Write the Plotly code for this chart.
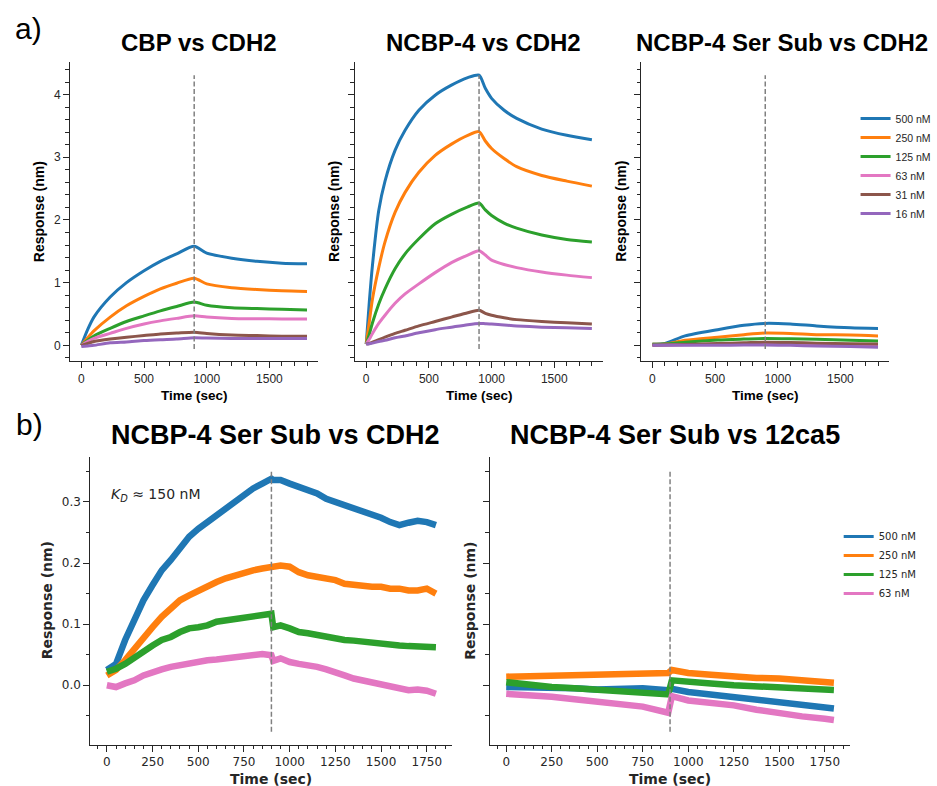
import plotly.graph_objects as go

# ---------------- data ----------------
CONC = ["500 nM", "250 nM", "125 nM", "63 nM", "31 nM", "16 nM"]
COLORS = ["#1f77b4", "#ff7f0e", "#2ca02c", "#e377c2", "#8c564b", "#9467bd"]
ASSOC_END = 900  # sec, end of association phase

TITLES_TOP = ["CBP vs CDH2", "NCBP-4 vs CDH2", "NCBP-4 Ser Sub vs CDH2"]
TITLES_BOTTOM = ["NCBP-4 Ser Sub vs CDH2", "NCBP-4 Ser Sub vs 12ca5"]

XTICKS_TOP = [0, 500, 1000, 1500]
YTICKS_TOP = [0, 1, 2, 3, 4]
XTICKS_BOTTOM = [0, 250, 500, 750, 1000, 1250, 1500, 1750]
YTICKS_BOTTOM = [0.0, 0.1, 0.2, 0.3]

# a) CBP vs CDH2
T_CBP = [0, 50, 100, 230, 360, 500, 630, 760, 900, 1000, 1200, 1400, 1600, 1800]
CBP_500 = [0.00, 0.25, 0.45, 0.77, 1.00, 1.19, 1.34, 1.46, 1.58, 1.47, 1.39, 1.34, 1.31, 1.30]
CBP_250 = [0.00, 0.12, 0.23, 0.45, 0.63, 0.78, 0.90, 0.99, 1.07, 0.98, 0.92, 0.89, 0.87, 0.86]
CBP_125 = [0.00, 0.08, 0.15, 0.27, 0.38, 0.47, 0.55, 0.62, 0.69, 0.64, 0.60, 0.586, 0.575, 0.565]
CBP_63 = [0.00, 0.06, 0.11, 0.19, 0.27, 0.34, 0.39, 0.43, 0.47, 0.45, 0.43, 0.425, 0.42, 0.42]
CBP_31 = [0.00, 0.03, 0.06, 0.10, 0.13, 0.155, 0.18, 0.195, 0.21, 0.19, 0.165, 0.155, 0.145, 0.145]
CBP_16 = [-0.02, -0.01, 0.00, 0.04, 0.055, 0.077, 0.09, 0.10, 0.12, 0.115, 0.11, 0.11, 0.11, 0.11]

# a) NCBP-4 vs CDH2
T_NCBP = [0, 25, 50, 100, 150, 230, 310, 420, 550, 680, 810, 900, 950, 1000, 1100, 1200, 1400, 1600, 1800]
NCBP_500 = [0.02, 0.70, 1.28, 2.15, 2.62, 3.11, 3.43, 3.75, 3.99, 4.15, 4.27, 4.31, 4.10, 3.94, 3.75, 3.62, 3.45, 3.35, 3.28]
NCBP_250 = [0.02, 0.38, 0.74, 1.24, 1.65, 2.12, 2.44, 2.76, 3.03, 3.21, 3.35, 3.41, 3.26, 3.14, 2.98, 2.85, 2.71, 2.62, 2.54]
NCBP_125 = [0.02, 0.18, 0.36, 0.66, 0.90, 1.22, 1.46, 1.70, 1.94, 2.09, 2.21, 2.27, 2.16, 2.07, 1.95, 1.87, 1.76, 1.69, 1.65]
NCBP_63 = [0.02, 0.10, 0.19, 0.35, 0.48, 0.67, 0.82, 0.98, 1.16, 1.32, 1.44, 1.51, 1.44, 1.36, 1.29, 1.24, 1.17, 1.12, 1.08]
NCBP_31 = [0.02, 0.03, 0.05, 0.09, 0.13, 0.19, 0.24, 0.31, 0.38, 0.45, 0.52, 0.56, 0.51, 0.48, 0.44, 0.41, 0.38, 0.36, 0.34]
NCBP_16 = [0.02, 0.025, 0.035, 0.06, 0.08, 0.12, 0.15, 0.20, 0.25, 0.29, 0.33, 0.35, 0.345, 0.34, 0.325, 0.31, 0.29, 0.28, 0.27]

# a) NCBP-4 Ser Sub vs CDH2
T_SER = [0, 100, 260, 520, 730, 900, 1100, 1310, 1580, 1800]
SER_500 = [0.016, 0.03, 0.15, 0.25, 0.32, 0.35, 0.34, 0.31, 0.28, 0.27]
SER_250 = [0.016, 0.02, 0.08, 0.13, 0.17, 0.197, 0.19, 0.17, 0.165, 0.15]
SER_125 = [0.016, 0.02, 0.05, 0.085, 0.10, 0.11, 0.105, 0.095, 0.08, 0.07]
SER_63 = [0.0, 0.005, 0.01, 0.02, 0.025, 0.03, 0.025, 0.02, 0.015, 0.01]
SER_31 = [0.0, 0.005, 0.015, 0.03, 0.04, 0.05, 0.045, 0.035, 0.025, 0.02]
SER_16 = [0.0, 0.0, 0.0, 0.0, 0.005, 0.005, 0.0, -0.01, -0.02, -0.03]

# b) NCBP-4 Ser Sub vs CDH2 (zoomed)
T_B1 = [0, 50, 100, 150, 200, 250, 300, 350, 400, 450, 500, 550, 600, 650, 700, 750, 800, 850, 900,
        910, 950, 1000, 1050, 1100, 1150, 1200, 1250, 1300, 1350, 1400, 1450, 1500, 1550, 1600, 1650,
        1700, 1750, 1800]
B1_500 = [0.025, 0.035, 0.074, 0.106, 0.139, 0.164, 0.188, 0.205, 0.226, 0.243, 0.256, 0.267, 0.278,
          0.292, 0.303, 0.314, 0.322, 0.330, 0.338, 0.336, 0.336, 0.330, 0.325, 0.319, 0.314, 0.305,
          0.300, 0.293, 0.289, 0.284, 0.280, 0.274, 0.267, 0.262, 0.266, 0.269, 0.267, 0.262]
B1_250 = [0.016, 0.025, 0.041, 0.060, 0.079, 0.095, 0.112, 0.125, 0.139, 0.147, 0.155, 0.161, 0.169,
          0.175, 0.180, 0.184, 0.188, 0.191, 0.194, 0.195, 0.196, 0.194, 0.185, 0.180, 0.177, 0.175,
          0.172, 0.166, 0.164, 0.161, 0.161, 0.161, 0.158, 0.158, 0.155, 0.155, 0.158, 0.150]
B1_125 = [0.022, 0.027, 0.035, 0.046, 0.057, 0.065, 0.074, 0.079, 0.087, 0.093, 0.095, 0.098, 0.104,
          0.106, 0.109, 0.112, 0.113, 0.115, 0.117, 0.095, 0.098, 0.093, 0.087, 0.085, 0.082, 0.079,
          0.076, 0.074, 0.073, 0.071, 0.070, 0.068, 0.066, 0.065, 0.064, 0.064, 0.063, 0.062]
B1_63 = [0.000, -0.003, 0.003, 0.008, 0.016, 0.022, 0.026, 0.030, 0.033, 0.035, 0.038, 0.041, 0.042,
         0.044, 0.045, 0.047, 0.049, 0.051, 0.049, 0.040, 0.044, 0.038, 0.035, 0.033, 0.030, 0.026,
         0.022, 0.016, 0.011, 0.008, 0.005, 0.003, 0.000, -0.003, -0.008, -0.007, -0.009, -0.014]

# b) NCBP-4 Ser Sub vs 12ca5
T_B2 = [0, 125, 250, 375, 500, 625, 750, 890, 910, 1000, 1125, 1250, 1375, 1500, 1625, 1750, 1800]
B2_500 = [-0.003, -0.003, -0.004, -0.005, -0.007, -0.006, -0.005, -0.008, -0.006, -0.011, -0.015,
          -0.019, -0.023, -0.027, -0.030, -0.035, -0.038]
B2_250 = [0.014, 0.015, 0.016, 0.016, 0.016, 0.017, 0.019, 0.020, 0.025, 0.020, 0.017, 0.014, 0.012,
          0.011, 0.008, 0.005, 0.004]
B2_125 = [0.005, 0.000, -0.003, -0.005, -0.008, -0.010, -0.013, -0.015, 0.008, 0.005, 0.003, 0.000,
          -0.002, -0.003, -0.005, -0.008, -0.008]
B2_63 = [-0.014, -0.016, -0.019, -0.023, -0.027, -0.031, -0.035, -0.045, -0.018, -0.025, -0.029,
         -0.033, -0.040, -0.046, -0.051, -0.055, -0.057]

# extent of the dashed "end of association" markers
DASH_Y_TOP = [-0.06, 4.31]
DASH_Y_BOTTOM = [-0.076, 0.352]

# ---------------- layout helpers ----------------
W, H = 937, 786


def px(x):
    return x / W


def py(y):
    return 1 - y / H


INK = "#262626"
ARIAL = "Liberation Sans"
DEJAVU = "DejaVu Sans"

fig = go.Figure()

top_panels = [
    (T_CBP, [CBP_500, CBP_250, CBP_125, CBP_63, CBP_31, CBP_16]),
    (T_NCBP, [NCBP_500, NCBP_250, NCBP_125, NCBP_63, NCBP_31, NCBP_16]),
    (T_SER, [SER_500, SER_250, SER_125, SER_63, SER_31, SER_16]),
]
for p, (t, series) in enumerate(top_panels):
    ax = "" if p == 0 else str(p + 1)
    for i, vals in enumerate(series):
        fig.add_trace(go.Scatter(
            x=t, y=vals, mode="lines", name=CONC[i],
            line=dict(color=COLORS[i], width=3, shape="spline", smoothing=0.7),
            xaxis="x" + ax, yaxis="y" + ax,
            showlegend=(p == 2), legend="legend", hoverinfo="skip"))

bottom_panels = [
    (T_B1, [B1_500, B1_250, B1_125, B1_63]),
    (T_B2, [B2_500, B2_250, B2_125, B2_63]),
]
for p, (t, series) in enumerate(bottom_panels):
    ax = str(p + 4)
    for i, vals in enumerate(series):
        fig.add_trace(go.Scatter(
            x=t, y=vals, mode="lines", name=CONC[i],
            line=dict(color=COLORS[i], width=6.5),
            xaxis="x" + ax, yaxis="y" + ax,
            showlegend=False, hoverinfo="skip"))
# legend entries for the bottom-right panel (thin legend lines)
for i in range(4):
    fig.add_trace(go.Scatter(
        x=[None], y=[None], mode="lines", name=CONC[i],
        line=dict(color=COLORS[i], width=3),
        xaxis="x5", yaxis="y5", showlegend=True, legend="legend2"))

top_y = [py(361), py(62)]
bot_y = [py(744.5), py(456.7)]
top_x = [[70.6, 320.7], [357.6, 607.7], [646.0, 896.0]]
bot_x = [[91.1, 455.8], [493.5, 856.7]]


def axis_common(font_family):
    return dict(showline=True, linecolor=INK, linewidth=1.2, ticks="outside",
                ticklen=6, tickwidth=1.2, tickcolor=INK, showgrid=False,
                zeroline=False, mirror=False,
                tickfont=dict(family=font_family, size=12, color=INK))


layout = dict(width=W, height=H, margin=dict(l=0, r=0, t=0, b=0),
              paper_bgcolor="white", plot_bgcolor="white", showlegend=True)

for p in range(3):
    ax = "" if p == 0 else str(p + 1)
    xa = axis_common(ARIAL)
    xa.update(domain=[px(top_x[p][0]), px(top_x[p][1])], range=[-90, 1890],
              tickmode="array", tickvals=XTICKS_TOP, anchor="y" + ax,
              minor=dict(ticks="outside", ticklen=3.5, tickwidth=1, tickcolor=INK,
                         dtick=100, tick0=0))
    ya = axis_common(ARIAL)
    ya.update(domain=top_y, range=[-0.25, 4.52], tickmode="array",
              tickvals=YTICKS_TOP, anchor="x" + ax, showticklabels=(p == 0),
              minor=dict(ticks="outside", ticklen=3.5, tickwidth=1, tickcolor=INK,
                         dtick=0.2, tick0=0))
    layout["xaxis" + ax] = xa
    layout["yaxis" + ax] = ya

for p in range(2):
    ax = str(p + 4)
    xa = axis_common(DEJAVU)
    xa.update(domain=[px(bot_x[p][0]), px(bot_x[p][1])], range=[-90, 1890],
              tickmode="array", tickvals=XTICKS_BOTTOM, anchor="y" + ax,
              minor=dict(ticks="outside", ticklen=3.5, tickwidth=1, tickcolor=INK,
                         dtick=50, tick0=0))
    ya = axis_common(DEJAVU)
    ya.update(domain=bot_y, range=[-0.097, 0.374], tickmode="array",
              tickvals=YTICKS_BOTTOM, tickformat=".1f", anchor="x" + ax,
              showticklabels=(p == 0),
              minor=dict(ticks="outside", ticklen=3.5, tickwidth=1, tickcolor=INK,
                         dtick=0.05, tick0=0))
    layout["xaxis" + ax] = xa
    layout["yaxis" + ax] = ya

layout["legend"] = dict(x=px(862), y=py(104), xanchor="left", yanchor="top",
                        bgcolor="rgba(0,0,0,0)", borderwidth=0, itemwidth=30,
                        tracegroupgap=0,
                        font=dict(family=ARIAL, size=10.5, color=INK))
layout["legend2"] = dict(x=px(845), y=py(522), xanchor="left", yanchor="top",
                         bgcolor="rgba(0,0,0,0)", borderwidth=0, itemwidth=30,
                         tracegroupgap=0,
                         font=dict(family=DEJAVU, size=10, color=INK))

shapes = []
for ax in ["", "2", "3"]:
    shapes.append(dict(type="line", xref="x" + ax, yref="y" + ax,
                       x0=ASSOC_END, x1=ASSOC_END, y0=DASH_Y_TOP[0], y1=DASH_Y_TOP[1],
                       line=dict(color="#808080", width=1.5, dash="5px,2.5px")))
for ax in ["4", "5"]:
    shapes.append(dict(type="line", xref="x" + ax, yref="y" + ax,
                       x0=ASSOC_END, x1=ASSOC_END, y0=DASH_Y_BOTTOM[0], y1=DASH_Y_BOTTOM[1],
                       line=dict(color="#808080", width=1.5, dash="5px,2.5px")))
layout["shapes"] = shapes


def ann(text, x, y, size, family, bold=False, angle=0, xanchor="center", color="black"):
    return dict(text=("<b>%s</b>" % text) if bold else text, x=px(x), y=py(y),
                xref="paper", yref="paper", showarrow=False, xanchor=xanchor,
                yanchor="middle", textangle=angle,
                font=dict(family=family, size=size, color=color))


annotations = [
    ann("a)", 29, 29, 30, ARIAL),
    ann("b)", 30, 424, 30, ARIAL),
]
for title, cx in zip(TITLES_TOP, [200, 487, 788]):
    annotations.append(ann(title, cx, 43, 24, ARIAL, bold=True))
for title, cx in zip(TITLES_BOTTOM, [278, 680]):
    annotations.append(ann(title, cx, 435, 27, ARIAL, bold=True))
for (x0, x1), yx in zip(top_x, [40, 337, 626]):
    annotations.append(ann("Time (sec)", (x0 + x1) / 2, 395, 13.5, ARIAL, bold=True))
    annotations.append(ann("Response (nm)", yx, 211.5, 14, ARIAL, bold=True, angle=-90))
for (x0, x1), yx in zip(bot_x, [47, 472.7]):
    annotations.append(ann("Time (sec)", (x0 + x1) / 2, 779, 14, DEJAVU, bold=True, color=INK))
    annotations.append(ann("Response (nm)", yx, 600.6, 14, DEJAVU, bold=True, angle=-90, color=INK))
annotations.append(ann("<i>K</i><sub><i>D</i></sub> \u2248 150 nM", 110, 495, 14, DEJAVU,
                       xanchor="left", color=INK))
layout["annotations"] = annotations

fig.update_layout(**layout)
fig.write_html("out.html", config={"displayModeBar": False},
               post_script="document.body.style.margin='0px';document.body.style.overflow='hidden';")
